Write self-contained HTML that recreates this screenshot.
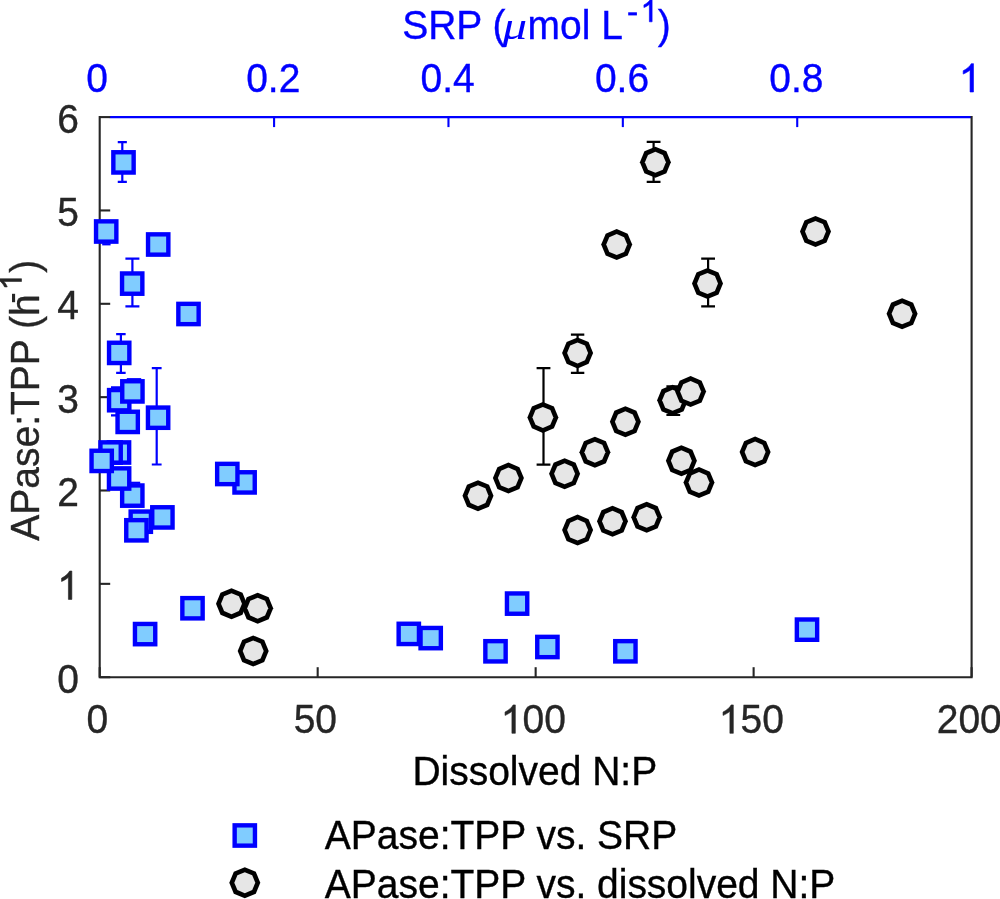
<!DOCTYPE html>
<html><head><meta charset="utf-8"><title>chart</title>
<style>html,body{margin:0;padding:0;background:#fff;}body{width:1000px;height:899px;position:relative;overflow:hidden;font-family:"Liberation Sans",sans-serif;}</style></head>
<body>
<svg width="1000" height="899" viewBox="0 0 1000 899" style="position:absolute;left:0;top:0;will-change:transform">
<g stroke="#0000FF" stroke-width="2.1" fill="none">
<path d="M109.7,117.1 H971.6"/>
<path d="M274.08,117.1 v10"/>
<path d="M448.46,117.1 v10"/>
<path d="M622.84,117.1 v10"/>
<path d="M797.22,117.1 v10"/>
</g>
<g stroke="#262626" stroke-width="2.1" fill="none" stroke-linecap="butt">
<path d="M99.7,116.05 V677.2 H971.6 V116.05"/>
<path d="M99.7,677.20 h10.5"/>
<path d="M99.7,583.85 h10.5"/>
<path d="M99.7,490.50 h10.5"/>
<path d="M99.7,397.15 h10.5"/>
<path d="M99.7,303.80 h10.5"/>
<path d="M99.7,210.45 h10.5"/>
<path d="M99.7,117.10 h10.5"/>
<path d="M99.70,677.2 v-10"/>
<path d="M317.68,677.2 v-10"/>
<path d="M535.65,677.2 v-10"/>
<path d="M753.62,677.2 v-10"/>
<path d="M971.60,677.2 v-10"/>
</g>
<path d="M653.6,141.8 V181.8 M646.7,141.8 h13.8 M646.7,181.8 h13.8" stroke="#000" stroke-width="2.2" fill="none"/>
<path d="M708.1,258.6 V306.4 M701.2,258.6 h13.8 M701.2,306.4 h13.8" stroke="#000" stroke-width="2.2" fill="none"/>
<path d="M577.6,334.7 V372.9 M570.9,334.7 h13.4 M570.9,372.9 h13.4" stroke="#000" stroke-width="2.2" fill="none"/>
<path d="M543.5,368.1 V464.6 M536.6,368.1 h13.8 M536.6,464.6 h13.8" stroke="#000" stroke-width="2.2" fill="none"/>
<path d="M673.3,386.3 V415.0 M666.4,386.3 h13.8 M666.4,415.0 h13.8" stroke="#000" stroke-width="2.2" fill="none"/>
<polygon points="672.60,384.80 661.64,389.34 657.10,400.30 661.64,411.26 672.60,415.80 683.56,411.26 688.10,400.30 683.56,389.34" fill="#000"/><polygon points="672.60,389.80 665.18,392.88 662.10,400.30 665.18,407.72 672.60,410.80 680.02,407.72 683.10,400.30 680.02,392.88" fill="#E6E6E6"/>
<polygon points="690.60,376.10 679.64,380.64 675.10,391.60 679.64,402.56 690.60,407.10 701.56,402.56 706.10,391.60 701.56,380.64" fill="#000"/><polygon points="690.60,381.10 683.18,384.18 680.10,391.60 683.18,399.02 690.60,402.10 698.02,399.02 701.10,391.60 698.02,384.18" fill="#E6E6E6"/>
<polygon points="655.40,146.80 644.44,151.34 639.90,162.30 644.44,173.26 655.40,177.80 666.36,173.26 670.90,162.30 666.36,151.34" fill="#000"/><polygon points="655.40,151.80 647.98,154.88 644.90,162.30 647.98,169.72 655.40,172.80 662.82,169.72 665.90,162.30 662.82,154.88" fill="#E6E6E6"/>
<polygon points="616.70,229.10 605.74,233.64 601.20,244.60 605.74,255.56 616.70,260.10 627.66,255.56 632.20,244.60 627.66,233.64" fill="#000"/><polygon points="616.70,234.10 609.28,237.18 606.20,244.60 609.28,252.02 616.70,255.10 624.12,252.02 627.20,244.60 624.12,237.18" fill="#E6E6E6"/>
<polygon points="815.50,216.00 804.54,220.54 800.00,231.50 804.54,242.46 815.50,247.00 826.46,242.46 831.00,231.50 826.46,220.54" fill="#000"/><polygon points="815.50,221.00 808.08,224.08 805.00,231.50 808.08,238.92 815.50,242.00 822.92,238.92 826.00,231.50 822.92,224.08" fill="#E6E6E6"/>
<polygon points="707.50,268.00 696.54,272.54 692.00,283.50 696.54,294.46 707.50,299.00 718.46,294.46 723.00,283.50 718.46,272.54" fill="#000"/><polygon points="707.50,273.00 700.08,276.08 697.00,283.50 700.08,290.92 707.50,294.00 714.92,290.92 718.00,283.50 714.92,276.08" fill="#E6E6E6"/>
<polygon points="902.10,298.30 891.14,302.84 886.60,313.80 891.14,324.76 902.10,329.30 913.06,324.76 917.60,313.80 913.06,302.84" fill="#000"/><polygon points="902.10,303.30 894.68,306.38 891.60,313.80 894.68,321.22 902.10,324.30 909.52,321.22 912.60,313.80 909.52,306.38" fill="#E6E6E6"/>
<polygon points="577.60,337.40 566.64,341.94 562.10,352.90 566.64,363.86 577.60,368.40 588.56,363.86 593.10,352.90 588.56,341.94" fill="#000"/><polygon points="577.60,342.40 570.18,345.48 567.10,352.90 570.18,360.32 577.60,363.40 585.02,360.32 588.10,352.90 585.02,345.48" fill="#E6E6E6"/>
<polygon points="542.90,401.90 531.94,406.44 527.40,417.40 531.94,428.36 542.90,432.90 553.86,428.36 558.40,417.40 553.86,406.44" fill="#000"/><polygon points="542.90,406.90 535.48,409.98 532.40,417.40 535.48,424.82 542.90,427.90 550.32,424.82 553.40,417.40 550.32,409.98" fill="#E6E6E6"/>
<polygon points="625.40,406.30 614.44,410.84 609.90,421.80 614.44,432.76 625.40,437.30 636.36,432.76 640.90,421.80 636.36,410.84" fill="#000"/><polygon points="625.40,411.30 617.98,414.38 614.90,421.80 617.98,429.22 625.40,432.30 632.82,429.22 635.90,421.80 632.82,414.38" fill="#E6E6E6"/>
<polygon points="594.90,436.70 583.94,441.24 579.40,452.20 583.94,463.16 594.90,467.70 605.86,463.16 610.40,452.20 605.86,441.24" fill="#000"/><polygon points="594.90,441.70 587.48,444.78 584.40,452.20 587.48,459.62 594.90,462.70 602.32,459.62 605.40,452.20 602.32,444.78" fill="#E6E6E6"/>
<polygon points="699.00,467.10 688.04,471.64 683.50,482.60 688.04,493.56 699.00,498.10 709.96,493.56 714.50,482.60 709.96,471.64" fill="#000"/><polygon points="699.00,472.10 691.58,475.18 688.50,482.60 691.58,490.02 699.00,493.10 706.42,490.02 709.50,482.60 706.42,475.18" fill="#E6E6E6"/>
<polygon points="681.40,445.30 670.44,449.84 665.90,460.80 670.44,471.76 681.40,476.30 692.36,471.76 696.90,460.80 692.36,449.84" fill="#000"/><polygon points="681.40,450.30 673.98,453.38 670.90,460.80 673.98,468.22 681.40,471.30 688.82,468.22 691.90,460.80 688.82,453.38" fill="#E6E6E6"/>
<polygon points="755.10,436.60 744.14,441.14 739.60,452.10 744.14,463.06 755.10,467.60 766.06,463.06 770.60,452.10 766.06,441.14" fill="#000"/><polygon points="755.10,441.60 747.68,444.68 744.60,452.10 747.68,459.52 755.10,462.60 762.52,459.52 765.60,452.10 762.52,444.68" fill="#E6E6E6"/>
<polygon points="564.60,458.30 553.64,462.84 549.10,473.80 553.64,484.76 564.60,489.30 575.56,484.76 580.10,473.80 575.56,462.84" fill="#000"/><polygon points="564.60,463.30 557.18,466.38 554.10,473.80 557.18,481.22 564.60,484.30 572.02,481.22 575.10,473.80 572.02,466.38" fill="#E6E6E6"/>
<polygon points="508.40,462.60 497.44,467.14 492.90,478.10 497.44,489.06 508.40,493.60 519.36,489.06 523.90,478.10 519.36,467.14" fill="#000"/><polygon points="508.40,467.60 500.98,470.68 497.90,478.10 500.98,485.52 508.40,488.60 515.82,485.52 518.90,478.10 515.82,470.68" fill="#E6E6E6"/>
<polygon points="478.00,480.20 467.04,484.74 462.50,495.70 467.04,506.66 478.00,511.20 488.96,506.66 493.50,495.70 488.96,484.74" fill="#000"/><polygon points="478.00,485.20 470.58,488.28 467.50,495.70 470.58,503.12 478.00,506.20 485.42,503.12 488.50,495.70 485.42,488.28" fill="#E6E6E6"/>
<polygon points="577.60,514.60 566.64,519.14 562.10,530.10 566.64,541.06 577.60,545.60 588.56,541.06 593.10,530.10 588.56,519.14" fill="#000"/><polygon points="577.60,519.60 570.18,522.68 567.10,530.10 570.18,537.52 577.60,540.60 585.02,537.52 588.10,530.10 585.02,522.68" fill="#E6E6E6"/>
<polygon points="612.50,505.80 601.54,510.34 597.00,521.30 601.54,532.26 612.50,536.80 623.46,532.26 628.00,521.30 623.46,510.34" fill="#000"/><polygon points="612.50,510.80 605.08,513.88 602.00,521.30 605.08,528.72 612.50,531.80 619.92,528.72 623.00,521.30 619.92,513.88" fill="#E6E6E6"/>
<polygon points="646.70,501.80 635.74,506.34 631.20,517.30 635.74,528.26 646.70,532.80 657.66,528.26 662.20,517.30 657.66,506.34" fill="#000"/><polygon points="646.70,506.80 639.28,509.88 636.20,517.30 639.28,524.72 646.70,527.80 654.12,524.72 657.20,517.30 654.12,509.88" fill="#E6E6E6"/>
<polygon points="257.70,592.70 246.74,597.24 242.20,608.20 246.74,619.16 257.70,623.70 268.66,619.16 273.20,608.20 268.66,597.24" fill="#000"/><polygon points="257.70,597.70 250.28,600.78 247.20,608.20 250.28,615.62 257.70,618.70 265.12,615.62 268.20,608.20 265.12,600.78" fill="#E6E6E6"/>
<polygon points="231.50,588.20 220.54,592.74 216.00,603.70 220.54,614.66 231.50,619.20 242.46,614.66 247.00,603.70 242.46,592.74" fill="#000"/><polygon points="231.50,593.20 224.08,596.28 221.00,603.70 224.08,611.12 231.50,614.20 238.92,611.12 242.00,603.70 238.92,596.28" fill="#E6E6E6"/>
<polygon points="253.20,635.50 242.24,640.04 237.70,651.00 242.24,661.96 253.20,666.50 264.16,661.96 268.70,651.00 264.16,640.04" fill="#000"/><polygon points="253.20,640.50 245.78,643.58 242.70,651.00 245.78,658.42 253.20,661.50 260.62,658.42 263.70,651.00 260.62,643.58" fill="#E6E6E6"/>
<path d="M118.0,387.3 V415.3 M111.0,387.3 h14.0 M111.0,415.3 h14.0" stroke="#0000FF" stroke-width="2.2" fill="none"/>
<rect x="109.05" y="390.05" width="20.3" height="20.3" fill="#80CCFF" stroke="#0000FF" stroke-width="4.4"/>
<path d="M128.9,400 V412" stroke="#0000FF" stroke-width="2.2" fill="none"/>
<rect x="117.55" y="411.75" width="20.3" height="20.3" fill="#80CCFF" stroke="#0000FF" stroke-width="4.4"/>
<path d="M126.8,379.2 h14.4" stroke="#0000FF" stroke-width="2.2" fill="none"/>
<rect x="122.25" y="381.25" width="20.3" height="20.3" fill="#80CCFF" stroke="#0000FF" stroke-width="4.4"/>
<path d="M156.7,368.1 V464.5 M151.79999999999998,368.1 h9.8 M151.79999999999998,464.5 h9.8" stroke="#0000FF" stroke-width="2.2" fill="none"/>
<rect x="147.95" y="407.55" width="20.3" height="20.3" fill="#80CCFF" stroke="#0000FF" stroke-width="4.4"/>
<path d="M120.9,334.2 V372.8 M116.15,334.2 h9.5 M116.15,372.8 h9.5" stroke="#0000FF" stroke-width="2.2" fill="none"/>
<rect x="109.05" y="342.75" width="20.3" height="20.3" fill="#80CCFF" stroke="#0000FF" stroke-width="4.4"/>
<rect x="178.35" y="303.85" width="20.3" height="20.3" fill="#80CCFF" stroke="#0000FF" stroke-width="4.4"/>
<path d="M132.4,258.7 V306.3 M125.4,258.7 h14.0 M125.4,306.3 h14.0" stroke="#0000FF" stroke-width="2.2" fill="none"/>
<rect x="122.05" y="273.45" width="20.3" height="20.3" fill="#80CCFF" stroke="#0000FF" stroke-width="4.4"/>
<rect x="148.05" y="234.35" width="20.3" height="20.3" fill="#80CCFF" stroke="#0000FF" stroke-width="4.4"/>
<path d="M102.2,244.3 h8.4" stroke="#0000FF" stroke-width="2.2" fill="none"/>
<rect x="96.05" y="221.35" width="20.3" height="20.3" fill="#80CCFF" stroke="#0000FF" stroke-width="4.4"/>
<path d="M122.3,142.2 V181.8 M117.75,142.2 h9.1 M117.75,181.8 h9.1" stroke="#0000FF" stroke-width="2.2" fill="none"/>
<rect x="113.35" y="152.25" width="20.3" height="20.3" fill="#80CCFF" stroke="#0000FF" stroke-width="4.4"/>
<rect x="108.85" y="442.35" width="20.3" height="20.3" fill="#80CCFF" stroke="#0000FF" stroke-width="4.4"/>
<rect x="100.45" y="442.35" width="20.3" height="20.3" fill="#80CCFF" stroke="#0000FF" stroke-width="4.4"/>
<path d="M131.0,482.8 h9.2" stroke="#0000FF" stroke-width="2.2" fill="none"/>
<rect x="122.15" y="485.45" width="20.3" height="20.3" fill="#80CCFF" stroke="#0000FF" stroke-width="4.4"/>
<rect x="108.95" y="468.35" width="20.3" height="20.3" fill="#80CCFF" stroke="#0000FF" stroke-width="4.4"/>
<rect x="91.55" y="450.75" width="20.3" height="20.3" fill="#80CCFF" stroke="#0000FF" stroke-width="4.4"/>
<rect x="130.65" y="511.55" width="20.3" height="20.3" fill="#80CCFF" stroke="#0000FF" stroke-width="4.4"/>
<rect x="152.25" y="507.25" width="20.3" height="20.3" fill="#80CCFF" stroke="#0000FF" stroke-width="4.4"/>
<rect x="126.25" y="520.15" width="20.3" height="20.3" fill="#80CCFF" stroke="#0000FF" stroke-width="4.4"/>
<rect x="234.45" y="472.25" width="20.3" height="20.3" fill="#80CCFF" stroke="#0000FF" stroke-width="4.4"/>
<rect x="217.15" y="463.85" width="20.3" height="20.3" fill="#80CCFF" stroke="#0000FF" stroke-width="4.4"/>
<rect x="182.35" y="598.10" width="20.3" height="20.3" fill="#80CCFF" stroke="#0000FF" stroke-width="4.4"/>
<rect x="134.95" y="623.95" width="20.3" height="20.3" fill="#80CCFF" stroke="#0000FF" stroke-width="4.4"/>
<rect x="398.65" y="623.75" width="20.3" height="20.3" fill="#80CCFF" stroke="#0000FF" stroke-width="4.4"/>
<rect x="420.55" y="627.95" width="20.3" height="20.3" fill="#80CCFF" stroke="#0000FF" stroke-width="4.4"/>
<rect x="485.35" y="641.15" width="20.3" height="20.3" fill="#80CCFF" stroke="#0000FF" stroke-width="4.4"/>
<rect x="506.95" y="593.45" width="20.3" height="20.3" fill="#80CCFF" stroke="#0000FF" stroke-width="4.4"/>
<rect x="537.25" y="636.85" width="20.3" height="20.3" fill="#80CCFF" stroke="#0000FF" stroke-width="4.4"/>
<rect x="615.25" y="641.15" width="20.3" height="20.3" fill="#80CCFF" stroke="#0000FF" stroke-width="4.4"/>
<rect x="796.85" y="619.50" width="20.3" height="20.3" fill="#80CCFF" stroke="#0000FF" stroke-width="4.4"/>
<rect x="234.65" y="825.35" width="20.3" height="20.3" fill="#80CCFF" stroke="#0000FF" stroke-width="4.4"/>
<polygon points="244.80,867.20 233.84,871.74 229.30,882.70 233.84,893.66 244.80,898.20 255.76,893.66 260.30,882.70 255.76,871.74" fill="#000"/><polygon points="244.80,872.20 237.38,875.28 234.30,882.70 237.38,890.12 244.80,893.20 252.22,890.12 255.30,882.70 252.22,875.28" fill="#E6E6E6"/>
<g font-family="Liberation Sans, sans-serif">
<text transform="translate(57.31,692.7) scale(1,1.04)" text-anchor="start" fill="#262626" stroke="#262626" stroke-width="0.35" font-size="39" >0</text>
<path transform="translate(57.31,599.4) scale(0.01904,-0.01927)" d="M763 0H583V1147Q518 1085 412.5 1023T223 930V1104Q374 1175 487 1276T647 1472H763Z" fill="#262626" stroke="#262626" stroke-width="31.5" stroke-linejoin="round"/>
<text transform="translate(57.31,506.0) scale(1,1.04)" text-anchor="start" fill="#262626" stroke="#262626" stroke-width="0.35" font-size="39" >2</text>
<text transform="translate(57.31,412.7) scale(1,1.04)" text-anchor="start" fill="#262626" stroke="#262626" stroke-width="0.35" font-size="39" >3</text>
<text transform="translate(57.31,319.3) scale(1,1.04)" text-anchor="start" fill="#262626" stroke="#262626" stroke-width="0.35" font-size="39" >4</text>
<text transform="translate(57.31,225.9) scale(1,1.04)" text-anchor="start" fill="#262626" stroke="#262626" stroke-width="0.35" font-size="39" >5</text>
<text transform="translate(57.31,132.6) scale(1,1.04)" text-anchor="start" fill="#262626" stroke="#262626" stroke-width="0.35" font-size="39" >6</text>
<text transform="translate(86.55,733.3) scale(1,1.04)" text-anchor="start" fill="#262626" stroke="#262626" stroke-width="0.35" font-size="39" >0</text>
<text transform="translate(293.68,733.3) scale(1,1.04)" text-anchor="start" fill="#262626" stroke="#262626" stroke-width="0.35" font-size="39" >50</text>
<path transform="translate(500.81,733.3) scale(0.01904,-0.01927)" d="M763 0H583V1147Q518 1085 412.5 1023T223 930V1104Q374 1175 487 1276T647 1472H763Z" fill="#262626" stroke="#262626" stroke-width="31.5" stroke-linejoin="round"/><text transform="translate(522.5,733.3) scale(1,1.04)" text-anchor="start" fill="#262626" stroke="#262626" stroke-width="0.35" font-size="39" >00</text>
<path transform="translate(718.79,733.3) scale(0.01904,-0.01927)" d="M763 0H583V1147Q518 1085 412.5 1023T223 930V1104Q374 1175 487 1276T647 1472H763Z" fill="#262626" stroke="#262626" stroke-width="31.5" stroke-linejoin="round"/><text transform="translate(740.48,733.3) scale(1,1.04)" text-anchor="start" fill="#262626" stroke="#262626" stroke-width="0.35" font-size="39" >50</text>
<text transform="translate(936.76,733.3) scale(1,1.04)" text-anchor="start" fill="#262626" stroke="#262626" stroke-width="0.35" font-size="39" >200</text>
<text transform="translate(86.35,92) scale(1,1.04)" text-anchor="start" fill="#0000FF" stroke="#0000FF" stroke-width="0.35" font-size="39" >0</text>
<text transform="translate(246.17,92) scale(1,1.04)" text-anchor="start" fill="#0000FF" stroke="#0000FF" stroke-width="0.35" font-size="39" >0.2</text>
<text transform="translate(420.55,92) scale(1,1.04)" text-anchor="start" fill="#0000FF" stroke="#0000FF" stroke-width="0.35" font-size="39" >0.4</text>
<text transform="translate(594.93,92) scale(1,1.04)" text-anchor="start" fill="#0000FF" stroke="#0000FF" stroke-width="0.35" font-size="39" >0.6</text>
<text transform="translate(769.31,92) scale(1,1.04)" text-anchor="start" fill="#0000FF" stroke="#0000FF" stroke-width="0.35" font-size="39" >0.8</text>
<path transform="translate(958.95,92) scale(0.01904,-0.01927)" d="M763 0H583V1147Q518 1085 412.5 1023T223 930V1104Q374 1175 487 1276T647 1472H763Z" fill="#0000FF" stroke="#0000FF" stroke-width="31.5" stroke-linejoin="round"/>
<text transform="translate(412.4,784.8) scale(1,1.04)" text-anchor="start" fill="#000" stroke="#000" stroke-width="0.35" font-size="39" >Dissolved N:P</text>
<text transform="translate(402.2,38.8) scale(1,1.04)" text-anchor="start" fill="#0000FF" stroke="#0000FF" stroke-width="0.35" font-size="39" >SRP (</text>
<text transform="translate(502.6,38.8) scale(1.27,1)" fill="#0000FF" font-family="Liberation Serif, serif" font-style="italic" font-size="38.5">μ</text>
<text transform="translate(527.6,38.8) scale(1,1.04)" text-anchor="start" fill="#0000FF" stroke="#0000FF" stroke-width="0.35" font-size="39" >mol L</text>
<rect x="628.2" y="12.3" width="8.7" height="3.1" fill="#0000FF"/>
<path transform="translate(640.55,21.8) scale(0.01514,-0.01532)" d="M763 0H583V1147Q518 1085 412.5 1023T223 930V1104Q374 1175 487 1276T647 1472H763Z" fill="#0000FF" stroke="#0000FF" stroke-width="39.6" stroke-linejoin="round"/>
<text transform="translate(657.8,38.8) scale(1,1.04)" text-anchor="start" fill="#0000FF" stroke="#0000FF" stroke-width="0.35" font-size="39" >)</text>
<g transform="translate(39,540.7) rotate(-90)" fill="#262626">
<text transform="translate(0,0) scale(1,1.04)" text-anchor="start" fill="#262626" stroke="#262626" stroke-width="0.35" font-size="39" >APase:TPP (h</text>
<rect x="238.5" y="-27.0" width="8.4" height="3.1"/>
<path transform="translate(250.40,-17.5) scale(0.01514,-0.01532)" d="M763 0H583V1147Q518 1085 412.5 1023T223 930V1104Q374 1175 487 1276T647 1472H763Z" fill="#262626" stroke="#262626" stroke-width="39.6" stroke-linejoin="round"/>
<text transform="translate(268,0) scale(1,1.04)" text-anchor="start" fill="#262626" stroke="#262626" stroke-width="0.35" font-size="39" >)</text>
</g>
<text transform="translate(324.8,848.6) scale(1,1.04)" text-anchor="start" fill="#000" stroke="#000" stroke-width="0.35" font-size="39" >APase:TPP vs. SRP</text>
<text transform="translate(324.8,897.6) scale(1,1.04)" text-anchor="start" fill="#000" stroke="#000" stroke-width="0.35" font-size="39" >APase:TPP vs. dissolved N:P</text>
</g>
</svg>
</body></html>
